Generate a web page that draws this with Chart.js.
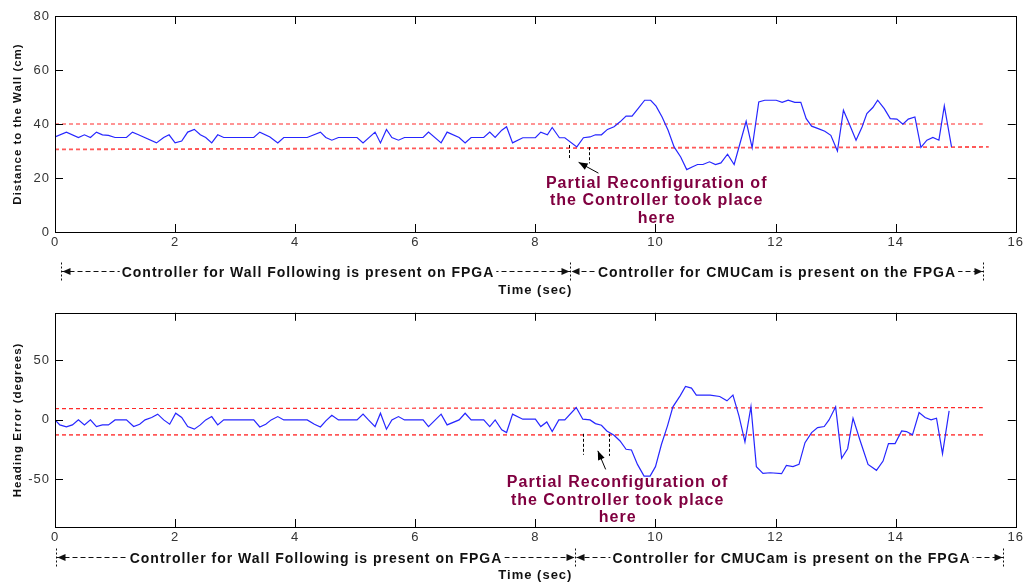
<!DOCTYPE html>
<html>
<head>
<meta charset="utf-8">
<script src="https://cdn.jsdelivr.net/npm/chart.js@4.4.1/dist/chart.umd.min.js"></script>
<style>
  body { margin: 0; background: #fff; }
  #wrap { position: relative; width: 1026px; height: 583px; }
  #distChart { position: absolute; left: 0; top: 0; }
  #headChart { position: absolute; left: 0; top: 300px; }
</style>
</head>
<body>
<div id="wrap">
  <canvas id="distChart" width="1026" height="300"></canvas>
  <canvas id="headChart" width="1026" height="283"></canvas>
</div>
<script>
// distance to the wall (cm)
const distT = [
  0, 0.19, 0.39, 0.49, 0.59, 0.69, 0.79, 0.89, 1.0, 1.19,
  1.29, 1.39, 1.69, 1.81, 1.9, 2.0, 2.11, 2.21, 2.32, 2.42,
  2.51, 2.61, 2.71, 2.81, 3.31, 3.41, 3.58, 3.71, 3.81, 4.2,
  4.42, 4.51, 4.61, 4.72, 5.03, 5.13, 5.33, 5.42, 5.52, 5.61,
  5.72, 5.82, 6.13, 6.22, 6.43, 6.53, 6.73, 6.83, 6.93, 7.14,
  7.24, 7.33, 7.44, 7.52, 7.62, 7.79, 8.0, 8.09, 8.2, 8.28,
  8.4, 8.49, 8.69, 8.8, 8.91, 9.0, 9.1, 9.2, 9.31, 9.41,
  9.51, 9.61, 9.71, 9.82, 9.92, 10.01, 10.11, 10.21, 10.31, 10.42,
  10.52, 10.61, 10.7, 10.79, 10.9, 11.0, 11.09, 11.2, 11.31, 11.51,
  11.61, 11.72, 11.82, 12.01, 12.11, 12.21, 12.32, 12.42, 12.51, 12.6,
  12.71, 12.82, 12.92, 13.03, 13.13, 13.23, 13.34, 13.44, 13.52, 13.62,
  13.7, 13.81, 13.91, 14.02, 14.12, 14.21, 14.32, 14.42, 14.52, 14.62,
  14.72, 14.81, 14.93
];
const distance = [
  35.2, 37, 35, 36, 35, 37, 36, 35.8, 35, 35,
  37, 36, 33, 35, 36, 33, 33.7, 37, 38, 36,
  35, 33, 36, 35, 35, 37, 35.2, 33, 35, 35,
  37, 35, 34, 35, 35, 33, 37, 33, 38, 35,
  34, 35, 35, 37, 33, 37, 35, 33, 35, 35,
  37, 35, 37.7, 39, 33, 34.9, 34.9, 37, 36, 38.7,
  34.9, 34.9, 31.5, 34.9, 35.2, 36, 36, 38, 39, 40.8,
  42.9, 42.9, 45.7, 48.8, 48.8, 46.6, 42.6, 37.7, 31.5, 27.8,
  23.1, 24.1, 25, 25, 26, 25, 25.6, 28.8, 25, 41,
  31.2, 48.2, 48.8, 48.8, 48, 48.8, 48, 48, 42, 39.2,
  38.3, 37.3, 35.8, 30, 45.1, 39.9, 34, 38.9, 43.9, 46.1,
  48.8, 45.7, 42, 41.8, 39.9, 41.8, 42.6, 31.3, 34, 35,
  34, 46.7, 31.5
];

// heading error (degrees)
const headT = [
  0, 0.08, 0.19, 0.29, 0.39, 0.49, 0.59, 0.69, 0.79, 0.89,
  1.0, 1.19, 1.31, 1.41, 1.5, 1.61, 1.71, 1.81, 1.91, 2.01,
  2.11, 2.21, 2.32, 2.42, 2.51, 2.61, 2.71, 2.81, 3.31, 3.41,
  3.51, 3.6, 3.71, 3.81, 4.2, 4.32, 4.42, 4.51, 4.61, 4.72,
  5.03, 5.13, 5.22, 5.33, 5.42, 5.52, 5.61, 5.72, 5.82, 6.13,
  6.22, 6.43, 6.53, 6.73, 6.83, 6.93, 7.14, 7.24, 7.33, 7.44,
  7.52, 7.62, 7.79, 8.0, 8.09, 8.19, 8.28, 8.39, 8.49, 8.68,
  8.79, 8.91, 9.0, 9.1, 9.19, 9.31, 9.41, 9.51, 9.6, 9.7,
  9.81, 9.91, 10.0, 10.1, 10.2, 10.29, 10.41, 10.5, 10.6, 10.68,
  10.91, 11.07, 11.19, 11.29, 11.39, 11.49, 11.59, 11.68, 11.79, 11.91,
  12.1, 12.18, 12.29, 12.39, 12.49, 12.6, 12.7, 12.81, 12.89, 13.0,
  13.1, 13.2, 13.29, 13.41, 13.54, 13.68, 13.79, 13.88, 13.99, 14.1,
  14.18, 14.28, 14.39, 14.49, 14.59, 14.68, 14.78, 14.89
];
const heading = [
  0, -4.2, -5.9, -4.2, 0, -4.2, 0, -5.6, -4.2, -4.2,
  0, 0, -5.6, -3.6, 0, 2, 4.8, 0, -3.6, 5.6,
  2, -5.6, -7.8, -4.2, 0, 2.8, -4.2, 0, 0, -5.9,
  -3.6, 0, 2.8, 0, 0, -3.6, -5.9, -0.8, 3.9, 0,
  0, 4.8, 0, -5.6, 5.6, -7.8, 0, 2.8, 0, 0,
  -5.6, 4.8, -4.2, 0, 5.6, 0, 0, -5.6, 0, -8.4,
  -10.6, 4.8, 0.6, 0.6, -5.6, -1.7, -9.8, 0, 0, 10.4,
  0.6, 0, -3.1, -4.5, -9.3, -12.9, -17.7, -24.7, -25.3, -37.4,
  -47.2, -47.2, -39.3, -20.5, -5, 11, 20.2, 28.1, 26.7, 20.8,
  20.8, 19.7, 16, 20.8, 3.4, -18.5, 11.2, -39.3, -44.9, -44.4,
  -45.2, -38.2, -39.3, -37.4, -19.1, -10.7, -6.5, -5.6, 0, 11,
  -32.3, -24.2, 1.4, -17.7, -37.4, -42.4, -34.6, -19.9, -19.9, -9.3,
  -9.8, -12.6, 6.2, 2, 0, 1.4, -28.4, 7.6
];

// red dashed limit lines: [start, end]
const distUpperT = [0, 15.45];
const distUpper = [40, 40];
const distLowerT = [0, 15.55];
const distLower = [30.6, 31.5];
const headUpperT = [0, 15.45];
const headUpper = [9.5, 10.3];
const headLowerT = [0, 15.5];
const headLower = [-12.6, -12.6];

const xTicks = [0, 2, 4, 6, 8, 10, 12, 14, 16];
const distTicks = [0, 20, 40, 60, 80];
const headTicks = [-50, 0, 50];

// phases shown under each plot (seconds)
const distPhases = [0.095, 8.58, 15.46];
const headPhases = [0.017, 8.66, 15.78];
const phaseLabels = ['Controller for Wall Following is present on FPGA', 'Controller for CMUCam is present on the FPGA'];
const noteLines = ['Partial Reconfiguration of', 'the Controller took place', 'here'];

const FONT = '"Liberation Sans", Arial, sans-serif';
const pts = (xs, ys) => xs.map((x, i) => ({ x: x, y: ys[i] }));

function arrowHead(ctx, x, y, dx, dy, len, half) {
  ctx.beginPath();
  ctx.moveTo(x, y);
  ctx.lineTo(x - dx * len - dy * half, y - dy * len + dx * half);
  ctx.lineTo(x - dx * len + dy * half, y - dy * len - dx * half);
  ctx.closePath();
  ctx.fill();
}

const matlabLook = {
  id: 'matlabLook',
  beforeDraw(chart) {
    chart.ctx.letterSpacing = '1px';
  },
  afterDatasetsDraw(chart, args, opts) {
    const { ctx, chartArea: a, scales: { x, y } } = chart;
    ctx.save();
    ctx.letterSpacing = '1px';
    // box and inward ticks
    ctx.strokeStyle = '#000';
    ctx.lineWidth = 1;
    ctx.strokeRect(Math.round(a.left) + 0.5, Math.round(a.top) + 0.5, Math.round(a.width), Math.round(a.height));
    ctx.beginPath();
    x.ticks.forEach(t => {
      if (t.value <= x.min || t.value >= x.max) return;
      const px = Math.round(x.getPixelForValue(t.value)) + 0.5;
      ctx.moveTo(px, a.bottom); ctx.lineTo(px, a.bottom - 8);
      ctx.moveTo(px, a.top); ctx.lineTo(px, a.top + 8);
    });
    y.ticks.forEach(t => {
      if (t.value <= y.min || t.value >= y.max) return;
      const py = Math.round(y.getPixelForValue(t.value)) + 0.5;
      ctx.moveTo(a.left, py); ctx.lineTo(a.left + 8, py);
      ctx.moveTo(a.right, py); ctx.lineTo(a.right - 8, py);
    });
    ctx.stroke();

    // phase row under the axis
    const yr = Math.round(a.bottom + opts.rowOffset) + 0.5;
    const px = opts.phases.map(t => Math.round(x.getPixelForValue(t)) + 0.5);
    ctx.strokeStyle = '#111';
    ctx.fillStyle = '#111';
    ctx.setLineDash([5, 3]);
    ctx.beginPath();
    ctx.moveTo(px[0], yr); ctx.lineTo(px[2], yr);
    ctx.stroke();
    ctx.setLineDash([2, 2]);
    ctx.beginPath();
    px.forEach(p => { ctx.moveTo(p, yr - 9); ctx.lineTo(p, yr + 9); });
    ctx.stroke();
    ctx.setLineDash([]);
    arrowHead(ctx, px[0] + 1, yr, -1, 0, 8, 3.5);
    arrowHead(ctx, px[1] - 1, yr, 1, 0, 8, 3.5);
    arrowHead(ctx, px[1] + 1, yr, -1, 0, 8, 3.5);
    arrowHead(ctx, px[2] - 1, yr, 1, 0, 8, 3.5);
    ctx.font = 'bold 14px ' + FONT;
    ctx.textAlign = 'center';
    ctx.textBaseline = 'alphabetic';
    phaseLabels.forEach((s, i) => {
      const cx = (px[i] + px[i + 1]) / 2 + opts.labelShift[i];
      const w = ctx.measureText(s).width;
      ctx.fillStyle = '#fff';
      ctx.fillRect(cx - w / 2 - 2, yr - 7, w + 4, 14);
      ctx.fillStyle = '#111';
      ctx.fillText(s, cx, yr + 5.5);
    });

    // reconfiguration note
    ctx.strokeStyle = '#000';
    ctx.setLineDash([3, 2]);
    ctx.beginPath();
    opts.marks.forEach(m => {
      const mx = Math.round(x.getPixelForValue(m[0])) + 0.5;
      ctx.moveTo(mx, y.getPixelForValue(m[1]));
      ctx.lineTo(mx, y.getPixelForValue(m[2]));
    });
    ctx.stroke();
    ctx.setLineDash([]);
    const ar = opts.arrow;
    const x0 = x.getPixelForValue(ar[0]), y0 = y.getPixelForValue(ar[1]);
    const x1 = x.getPixelForValue(ar[2]), y1 = y.getPixelForValue(ar[3]);
    const d = Math.hypot(x1 - x0, y1 - y0);
    ctx.beginPath();
    ctx.moveTo(x0, y0); ctx.lineTo(x1, y1);
    ctx.stroke();
    ctx.fillStyle = '#000';
    arrowHead(ctx, x1, y1, (x1 - x0) / d, (y1 - y0) / d, 9, 3.5);

    ctx.fillStyle = '#800040';
    ctx.font = 'bold 16px ' + FONT;
    const tx = x.getPixelForValue(opts.textAt);
    noteLines.forEach((s, i) => {
      ctx.fillText(s, tx, y.getPixelForValue(opts.textBase[i]));
    });
    ctx.restore();
  }
};

function makeChart(id, series, upper, lower, yOpts, padTop, xHeight, notes, xTitlePad) {
  return new Chart(document.getElementById(id), {
    type: 'line',
    data: {
      datasets: [
        { data: series, borderColor: '#2626ff', borderWidth: 1.2, pointRadius: 0, tension: 0 },
        { data: upper, borderColor: '#ff2a2a', borderWidth: 1.2, borderDash: [4, 3], pointRadius: 0 },
        { data: lower, borderColor: 'rgba(255,70,70,0.9)', borderWidth: 1.8, borderDash: [4, 3], pointRadius: 0 }
      ]
    },
    options: {
      responsive: false,
      animation: false,
      devicePixelRatio: 1,
      layout: { padding: { top: padTop, right: 10, left: 0, bottom: 0 } },
      plugins: { legend: { display: false }, tooltip: { enabled: false }, matlabLook: notes },
      scales: {
        x: {
          type: 'linear', min: 0, max: 16,
          grid: { display: false, drawTicks: false },
          border: { display: false },
          afterBuildTicks: s => { s.ticks = xTicks.map(v => ({ value: v })); },
          ticks: { color: '#333', padding: 3, maxRotation: 0, autoSkip: false, font: { size: 13, family: FONT } },
          title: { display: true, text: 'Time (sec)', color: '#111', font: { size: 13, weight: 'bold', family: FONT }, padding: { top: 0, bottom: xTitlePad } },
          afterFit: s => { s.height = xHeight; }
        },
        y: Object.assign({
          grid: { display: false, drawTicks: false },
          border: { display: false },
          ticks: { color: '#333', padding: 5, font: { size: 13, family: FONT } },
          afterFit: s => { s.width = 55; }
        }, yOpts)
      }
    },
    plugins: [matlabLook]
  });
}

makeChart('distChart', pts(distT, distance), pts(distUpperT, distUpper), pts(distLowerT, distLower), {
  min: 0, max: 80,
  afterBuildTicks: s => { s.ticks = distTicks.map(v => ({ value: v })); },
  title: { display: true, text: 'Distance to the Wall (cm)', color: '#111', font: { size: 11.5, weight: 'bold', family: FONT }, padding: { top: 11, bottom: 0 } }
}, 16, 68, {
  phases: distPhases, rowOffset: 39, labelShift: [-8, 0],
  marks: [[8.56, 32.2, 27.0], [8.90, 31.4, 25.4]],
  arrow: [9.05, 21.8, 8.72, 25.8],
  textAt: 10.02, textBase: [16.3, 9.9, 3.5]
}, 2);

makeChart('headChart', pts(headT, heading), pts(headUpperT, headUpper), pts(headLowerT, headLower), {
  min: -90, max: 90,
  afterBuildTicks: s => { s.ticks = headTicks.map(v => ({ value: v })); },
  title: { display: true, text: 'Heading Error (degrees)', color: '#111', font: { size: 11.5, weight: 'bold', family: FONT }, padding: { top: 11, bottom: 0 } }
}, 12, 56, {
  phases: headPhases, rowOffset: 30, labelShift: [0, 2],
  marks: [[8.79, -11.7, -29.3], [9.22, -11.7, -30.2]],
  arrow: [9.17, -41.6, 9.04, -26],
  textAt: 9.37, textBase: [-56.1, -71.2, -85.8]
}, 0);
</script>
</body>
</html>
